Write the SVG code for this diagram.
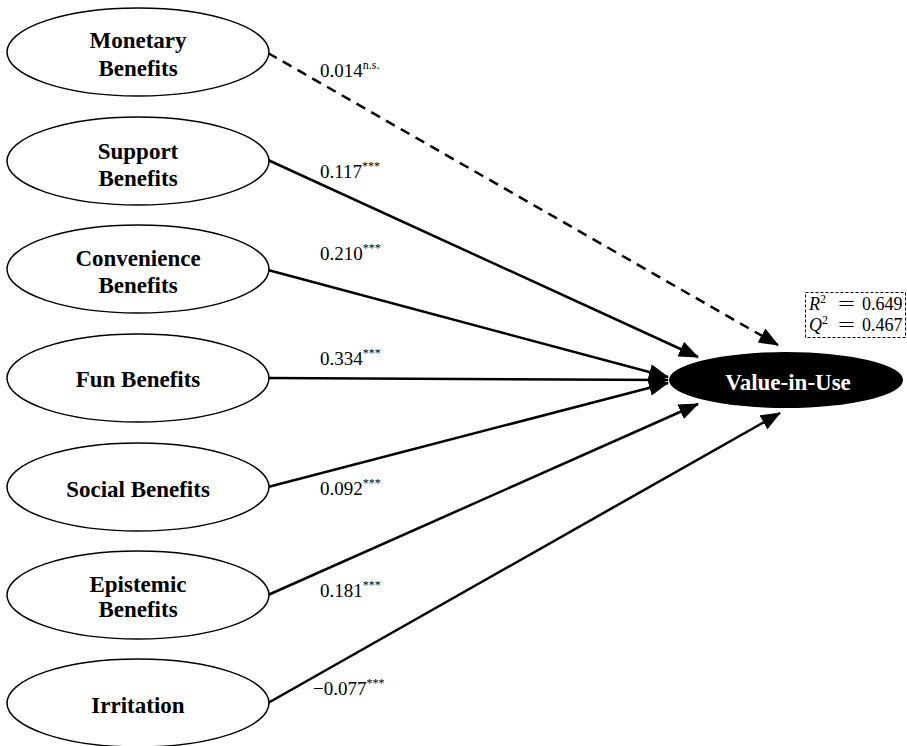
<svg xmlns="http://www.w3.org/2000/svg" width="907" height="746" viewBox="0 0 907 746">
<defs>
<style>
.node ellipse{fill:#fff;stroke:#000;stroke-width:1.5}
.lbl{font-family:"Liberation Serif",serif;font-weight:bold;font-size:23px;text-anchor:middle;fill:#000}
.coef{font-family:"Liberation Serif",serif;font-size:19px;fill:#000}
.sup{font-size:12px}
.conn line{stroke:#000;stroke-width:2.5}
.dash{stroke-dasharray:10,7}
.stat{font-family:"Liberation Serif",serif;font-size:18px;fill:#000}
</style>
<marker id="ah" markerUnits="userSpaceOnUse" markerWidth="20" markerHeight="16" refX="19" refY="8" orient="auto">
<path d="M0,0 L20,8 L0,16 z" fill="#000"/>
</marker>
</defs>
<rect width="907" height="746" fill="#fff"/>

<g id="connectors" class="conn">
<line class="dash" x1="268" y1="53" x2="778" y2="345" marker-end="url(#ah)"/>
<line x1="268" y1="160" x2="698" y2="357" marker-end="url(#ah)"/>
<line x1="268" y1="270" x2="668" y2="377" marker-end="url(#ah)"/>
<line x1="268" y1="378" x2="668" y2="380" marker-end="url(#ah)"/>
<line x1="268" y1="487" x2="668" y2="383" marker-end="url(#ah)"/>
<line x1="268" y1="595" x2="698" y2="404" marker-end="url(#ah)"/>
<line x1="268" y1="703" x2="780" y2="413" marker-end="url(#ah)"/>
</g>

<g id="coefficients">
<text class="coef" x="320" y="77">0.014<tspan class="sup" dy="-8" font-size="13">n.s.</tspan></text>
<text class="coef" x="320" y="178">0.117<tspan class="sup" dy="-8">***</tspan></text>
<text class="coef" x="320" y="260">0.210<tspan class="sup" dy="-8">***</tspan></text>
<text class="coef" x="320" y="365">0.334<tspan class="sup" dy="-8">***</tspan></text>
<text class="coef" x="320" y="495">0.092<tspan class="sup" dy="-8">***</tspan></text>
<text class="coef" x="320" y="597">0.181<tspan class="sup" dy="-8">***</tspan></text>
<text class="coef" x="313" y="695">−0.077<tspan class="sup" dy="-8">***</tspan></text>
</g>

<g id="n-monetary" class="node">
<ellipse cx="138" cy="52" rx="131" ry="44"/>
<text class="lbl" x="138" y="48">Monetary</text>
<text class="lbl" x="138" y="76">Benefits</text>
</g>
<g id="n-support" class="node">
<ellipse cx="138" cy="161" rx="131" ry="44"/>
<text class="lbl" x="138" y="159">Support</text>
<text class="lbl" x="138" y="186">Benefits</text>
</g>
<g id="n-convenience" class="node">
<ellipse cx="138" cy="269" rx="131" ry="44"/>
<text class="lbl" x="138" y="266">Convenience</text>
<text class="lbl" x="138" y="293">Benefits</text>
</g>
<g id="n-fun" class="node">
<ellipse cx="138" cy="378" rx="131" ry="44"/>
<text class="lbl" x="138" y="387">Fun Benefits</text>
</g>
<g id="n-social" class="node">
<ellipse cx="138" cy="487" rx="131" ry="44"/>
<text class="lbl" x="138" y="497">Social Benefits</text>
</g>
<g id="n-epistemic" class="node">
<ellipse cx="138" cy="595" rx="131" ry="44"/>
<text class="lbl" x="138" y="592">Epistemic</text>
<text class="lbl" x="138" y="617">Benefits</text>
</g>
<g id="n-irritation" class="node">
<ellipse cx="138" cy="703" rx="131" ry="44"/>
<text class="lbl" x="138" y="713">Irritation</text>
</g>

<g id="n-value">
<ellipse cx="786" cy="380" rx="117" ry="28" fill="#000"/>
<text class="lbl" x="788" y="390" style="fill:#fff">Value-in-Use</text>
</g>

<g id="fit-stats">
<rect x="805.5" y="292.5" width="100" height="45" fill="none" stroke="#000" stroke-width="1" stroke-dasharray="3,2"/>
<text class="stat" x="809" y="310"><tspan font-style="italic">R</tspan><tspan dy="-7" font-size="12">2</tspan></text>
<text class="stat" x="838" y="310" textLength="17" lengthAdjust="spacingAndGlyphs">=</text>
<text class="stat" x="862" y="310">0.649</text>
<text class="stat" x="809" y="331"><tspan font-style="italic">Q</tspan><tspan dy="-7" font-size="12">2</tspan></text>
<text class="stat" x="838" y="331" textLength="17" lengthAdjust="spacingAndGlyphs">=</text>
<text class="stat" x="862" y="331">0.467</text>
</g>
</svg>
